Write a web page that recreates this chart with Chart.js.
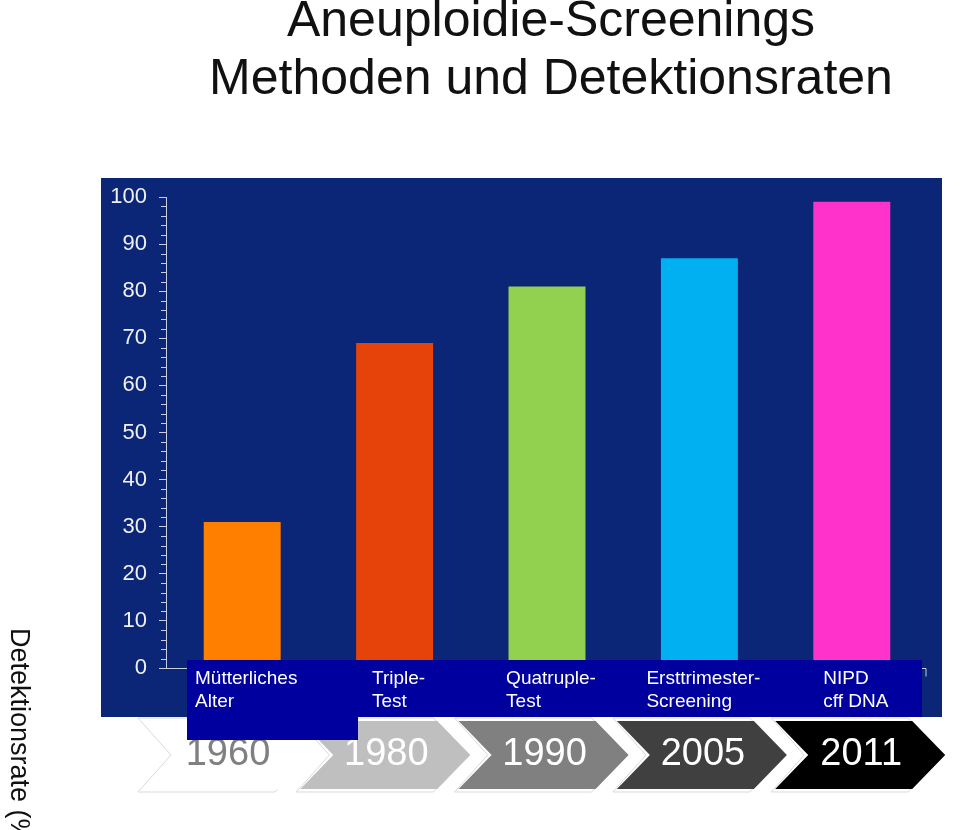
<!DOCTYPE html>
<html>
<head>
<meta charset="utf-8">
<script src="https://cdn.jsdelivr.net/npm/chart.js@4.4.1/dist/chart.umd.min.js"></script>
<style>
  html, body { margin: 0; padding: 0; background: #fff; }
  canvas { display: block; }
</style>
</head>
<body>
<canvas id="rateChart" width="960" height="830"></canvas>
<script>
// Data
const methods = [['Mütterliches', 'Alter'], ['Triple-', 'Test'], ['Quatruple-', 'Test'], ['Ersttrimester-', 'Screening'], ['NIPD', 'cff DNA']];
const rates = [31, 69, 81, 87, 99];
const years = ['1960', '1980', '1990', '2005', '2011'];
const barColors = ['#ff8000', '#e5430a', '#92d050', '#00b0f0', '#ff33cc'];
const yTicks = [0, 10, 20, 30, 40, 50, 60, 70, 80, 90, 100];

const FONT = "'Liberation Sans', Arial, sans-serif";

// chevron styles per year: fill, text colour
const chevronStyles = [
    { fill: '#ffffff', text: '#808080' },
    { fill: '#bfbfbf', text: '#ffffff' },
    { fill: '#808080', text: '#ffffff' },
    { fill: '#404040', text: '#ffffff' },
    { fill: '#000000', text: '#ffffff' }
];

function chevron(ctx, left, top, bottom, bodyW, depth) {
    const mid = (top + bottom) / 2;
    ctx.beginPath();
    ctx.moveTo(left, top);
    ctx.lineTo(left + bodyW, top);
    ctx.lineTo(left + bodyW + depth, mid);
    ctx.lineTo(left + bodyW, bottom);
    ctx.lineTo(left, bottom);
    ctx.lineTo(left + depth, mid);
    ctx.closePath();
}

const slidePlugin = {
    id: 'slide',
    beforeDraw(chart) {
        const ctx = chart.ctx;
        ctx.save();
        ctx.fillStyle = '#ffffff';
        ctx.fillRect(0, 0, chart.width, chart.height);

        // title
        ctx.fillStyle = '#111111';
        ctx.font = '50px ' + FONT;
        ctx.textAlign = 'center';
        ctx.textBaseline = 'middle';
        ctx.fillText('Aneuploidie-Screenings', 551, 22);
        ctx.fillText('Methoden und Detektionsraten', 551, 80);

        // navy plot panel
        ctx.fillStyle = '#0b2577';
        ctx.fillRect(101, 178, 841, 539);

        // rotated axis title (cut off at the bottom like the slide)
        ctx.translate(18, 628);
        ctx.rotate(Math.PI / 2);
        ctx.textAlign = 'left';
        ctx.font = '27px ' + FONT;
        ctx.fillStyle = '#111111';
        ctx.fillText('Detektionsrate (%)', 0, 0);
        ctx.restore();
    },
    afterDatasetsDraw(chart) {
        const ctx = chart.ctx;
        const y = chart.scales.y;
        const area = chart.chartArea;
        ctx.save();
        ctx.strokeStyle = '#c8cde0';
        ctx.lineWidth = 1;
        // minor ticks every 2
        for (let v = 0; v <= 100; v += 2) {
            if (v % 10 === 0) continue;
            const py = Math.round(y.getPixelForValue(v)) + 0.5;
            ctx.beginPath();
            ctx.moveTo(area.left - 5, py);
            ctx.lineTo(area.left, py);
            ctx.stroke();
        }
        // x axis line with end tick
        const y0 = Math.round(y.getPixelForValue(0)) + 0.5;
        ctx.beginPath();
        ctx.moveTo(area.left, y0);
        ctx.lineTo(area.right - 2, y0);
        ctx.lineTo(area.right - 2, y0 + 8);
        ctx.stroke();
        ctx.restore();
    },
    afterDraw(chart) {
        const ctx = chart.ctx;
        const x = chart.scales.x;
        ctx.save();

        // timeline chevrons
        const top = 721, bottom = 789;
        years.forEach((yr, i) => {
            const left = 142 + i * 158.3;
            const st = chevronStyles[i];
            chevron(ctx, left - 4, top - 3, bottom + 3, 137, 33);
            ctx.fillStyle = '#ffffff';
            ctx.fill();
            ctx.strokeStyle = '#d9d9d9';
            ctx.lineWidth = 1;
            ctx.stroke();
            chevron(ctx, left, top, bottom, 137, 33);
            ctx.fillStyle = st.fill;
            ctx.fill();
            ctx.fillStyle = st.text;
            ctx.font = '38px ' + FONT;
            ctx.textAlign = 'center';
            ctx.textBaseline = 'middle';
            ctx.fillText(yr, left + 86, 755);
        });

        // category label box
        ctx.fillStyle = '#00009f';
        ctx.fillRect(187, 660, 735, 57);
        ctx.fillRect(187, 717, 171, 23);

        ctx.fillStyle = '#ffffff';
        ctx.font = '19px ' + FONT;
        ctx.textAlign = 'left';
        ctx.textBaseline = 'middle';
        methods.forEach((lines, i) => {
            const cx = x.getPixelForValue(i);
            const w = Math.max(...lines.map(l => ctx.measureText(l).width));
            const lx = cx + 4 - w / 2;
            lines.forEach((l, j) => ctx.fillText(l, lx, 679 + j * 23));
        });
        ctx.restore();
    }
};

new Chart(document.getElementById('rateChart'), {
    type: 'bar',
    data: {
        labels: methods,
        datasets: [{
            data: rates,
            backgroundColor: barColors,
            borderWidth: 0,
            barPercentage: 1,
            categoryPercentage: 0.505
        }]
    },
    options: {
        responsive: false,
        animation: false,
        layout: { padding: { top: 197, bottom: 162, right: 32, left: 0 } },
        plugins: { legend: { display: false }, tooltip: { enabled: false } },
        scales: {
            x: { display: false },
            y: {
                min: 0,
                max: 100,
                afterFit: scale => { scale.width = 166; },
                afterBuildTicks: scale => { scale.ticks = yTicks.map(v => ({ value: v })); },
                ticks: {
                    color: '#f0f0f0',
                    font: { family: FONT, size: 22 },
                    padding: 12
                },
                grid: {
                    drawOnChartArea: false,
                    drawTicks: true,
                    tickLength: 7,
                    color: '#c8cde0'
                },
                border: { display: true, color: '#c8cde0' }
            }
        }
    },
    plugins: [slidePlugin]
});
</script>
</body>
</html>
